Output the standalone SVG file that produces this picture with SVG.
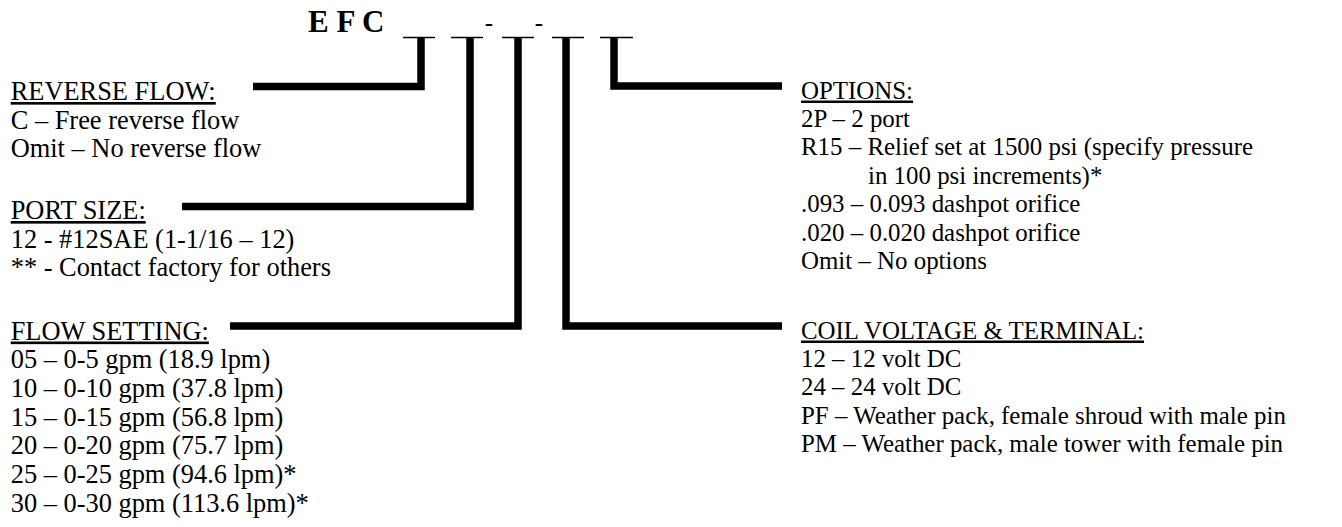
<svg xmlns="http://www.w3.org/2000/svg" width="1342" height="527" viewBox="0 0 1342 527">
<style>
.t{font-family:"Liberation Serif","Times New Roman",serif;fill:#000}
.l{font-size:26.4px}
.r{font-size:24.9px}
.h{text-decoration:underline}
.c{fill:none;stroke:#000;stroke-width:7.5;stroke-linejoin:miter;stroke-linecap:butt}
.u{stroke:#000;stroke-width:1.5}
</style>
<rect width="1342" height="527" fill="#fff"/>
<g id="code">
<text class="t" x="308" y="32" font-size="31" font-weight="bold">E F C</text>
<line class="u" x1="403" y1="37.5" x2="435" y2="37.5"/>
<line class="u" x1="451" y1="37.5" x2="483" y2="37.5"/>
<line class="u" x1="502" y1="37.5" x2="534" y2="37.5"/>
<line class="u" x1="552" y1="37.5" x2="584" y2="37.5"/>
<line class="u" x1="600" y1="37.5" x2="633" y2="37.5"/>
<text class="t" x="489" y="31" font-size="25" text-anchor="middle">-</text>
<text class="t" x="539" y="31" font-size="25" text-anchor="middle">-</text>
</g>
<g id="connectors">
<path class="c" d="M253,86.5 H421 V37.5"/>
<path class="c" d="M182,206.5 H470 V37.5"/>
<path class="c" d="M230,326 H518 V37.5"/>
<path class="c" d="M566,37.5 V326 H782"/>
<path class="c" d="M614,37.5 V86 H782"/>
</g>
<g id="reverse-flow" class="t l">
<text class="h" x="10.7" y="100">REVERSE FLOW:</text>
<text x="10.7" y="128.7">C – Free reverse flow</text>
<text x="10.7" y="157.4">Omit – No reverse flow</text>
</g>
<g id="port-size" class="t l">
<text class="h" x="10.7" y="219">PORT SIZE:</text>
<text x="10.7" y="247.7">12 - #12SAE (1-1/16 – 12)</text>
<text x="10.7" y="276.4">** - Contact factory for others</text>
</g>
<g id="flow-setting" class="t l">
<text class="h" x="10.7" y="339.5">FLOW SETTING:</text>
<text x="10.7" y="368.2">05 – 0-5 gpm (18.9 lpm)</text>
<text x="10.7" y="396.9">10 – 0-10 gpm (37.8 lpm)</text>
<text x="10.7" y="425.6">15 – 0-15 gpm (56.8 lpm)</text>
<text x="10.7" y="454.3">20 – 0-20 gpm (75.7 lpm)</text>
<text x="10.7" y="483">25 – 0-25 gpm (94.6 lpm)*</text>
<text x="10.7" y="511.7">30 – 0-30 gpm (113.6 lpm)*</text>
</g>
<g id="options" class="t r">
<text class="h" x="801" y="98.5">OPTIONS:</text>
<text x="801" y="126.9">2P – 2 port</text>
<text x="801" y="155.3">R15 – Relief set at 1500 psi (specify pressure</text>
<text x="868" y="183.7">in 100 psi increments)*</text>
<text x="801" y="212.1">.093 – 0.093 dashpot orifice</text>
<text x="801" y="240.5">.020 – 0.020 dashpot orifice</text>
<text x="801" y="268.9">Omit – No options</text>
</g>
<g id="coil-voltage" class="t r">
<text class="h" x="801" y="338.5">COIL VOLTAGE &amp; TERMINAL:</text>
<text x="801" y="366.9">12 – 12 volt DC</text>
<text x="801" y="395.3">24 – 24 volt DC</text>
<text x="801" y="423.7">PF – Weather pack, female shroud with male pin</text>
<text x="801" y="452.1">PM – Weather pack, male tower with female pin</text>
</g>
</svg>
